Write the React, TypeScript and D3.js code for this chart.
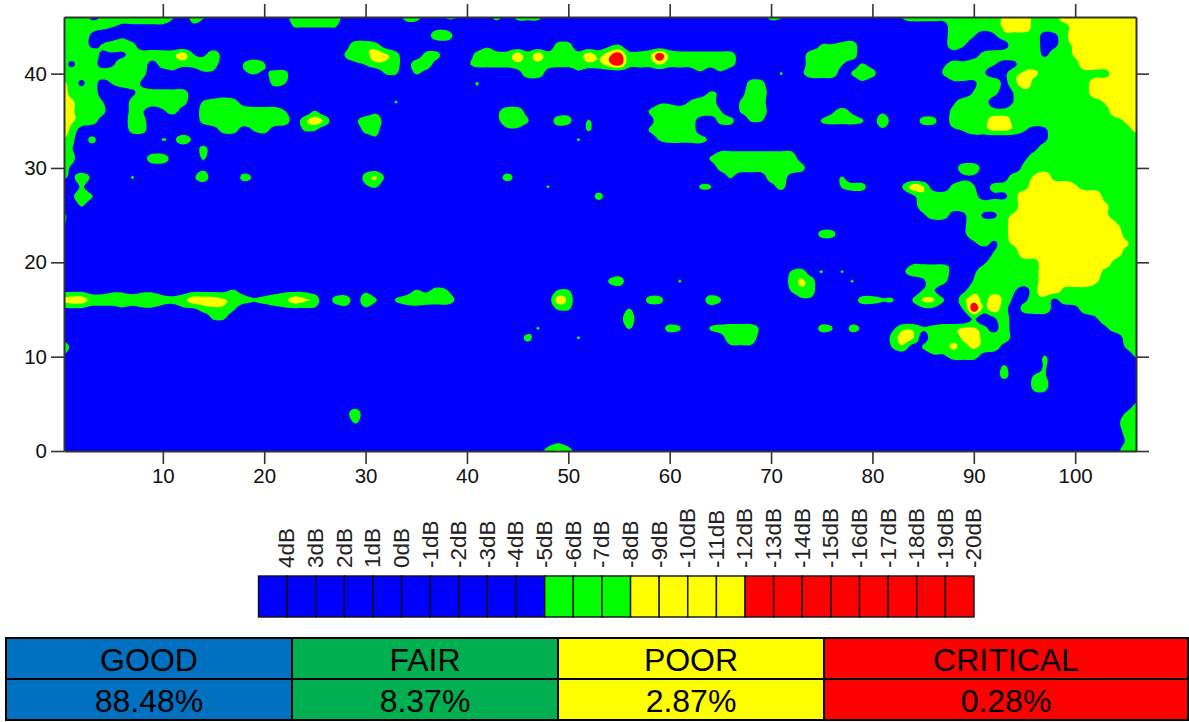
import React, { useEffect, useRef } from 'react';
import * as d3 from 'd3';

// level per grid node, rows run y=46 down to y=0, columns x=0..106 in groups of ten
const levelRows = [
  '5552355555 5314300000 0015555510 0000441033 0014044400 3000000000 0000000000 4300000000 0003444455 5556775557 7777777',
  '5554432222 2102100000 0003333300 0000110110 0000000000 0000000000 0000000000 0000000000 0001111155 5556775555 7777777',
  '5552002000 0000000000 0000000000 0000001551 0000000000 0000000000 0000000000 0000000000 0000000155 3025555125 7777777',
  '5552355400 0000000000 0000000015 5410000000 0020000004 4000230000 0000000000 0000033450 0000000153 0001555125 6777777',
  '5555222455 5573251000 0000000035 5764004400 0454474745 5475794459 5444444100 0001555550 0000000010 1455555255 6777777',
  '5255125551 5444541035 3000000012 3554155100 2444455544 4455794446 4445454100 0001555313 1000000244 5431255555 5777777',
  '5555555540 0200220023 2440000000 0033031000 0000015510 0200000000 0002020000 0302555135 4000000355 5312566555 5555777',
  '6525135520 0000000000 0430000000 0000000000 0300000000 0000000000 0000000044 0000000002 0000000022 2552575555 5577777',
  '7555100244 4441000000 0000000000 0000000000 0100000000 0000000000 0000320155 1000000000 0000000000 3541355555 5577777',
  '7655300455 5541345410 0000000000 0003000000 0000000000 0000000002 2135510355 0000000000 0000000025 5410355555 5556777',
  '7655400430 2411455555 5530030000 0200000000 0002551000 1000000035 5555530355 1000002420 0200000045 5544555555 5555777',
  '7655100540 0000455555 5551575002 5510000000 0002553005 4030000015 5551044033 0000034443 1510044055 5577555555 5555567',
  '7510000440 0000014413 4100330000 4400000000 0000220000 0030000035 5551000000 0000000000 0200000023 5566531255 5555556',
  '6404000000 3252000000 0000000000 0200000000 0000000000 0300000003 4444200000 0000000000 0000000000 0000000255 5555555',
  '5300000000 0000400000 0000000000 0000000000 0000000000 0000000000 0000022222 2220000000 0000000000 0000002555 5555555',
  '5400000015 5100300000 0000000000 0000000000 0000000000 0000000000 0000355555 5551000000 0000000000 0000025555 5555555',
  '5200000000 0000200000 0000000000 1100000000 0000000000 0000000000 0000045555 5554000000 0000000015 5100045555 5555555',
  '4252000300 0002500042 0000000000 4620000000 0001410000 0000000000 0000003000 5510000300 0000000002 2001556755 5555555',
  '0030000000 0000000000 0000000000 2300000000 0000000030 0000000000 0003300000 1400000344 0003761045 3144557777 6555555',
  '0253000000 0000000000 0000000000 0000000000 0000000000 0004000000 0000000000 0000000000 0000255555 4122577777 7775555',
  '0030000000 0000000000 0000000000 0000000000 0000000000 0000000000 0000000000 0000000000 0000155555 5555577777 7776555',
  '4100000000 0000000000 0000000000 0000000000 0000000000 0000000000 0000000000 0000000000 0000025512 5225677777 7776555',
  '4000000000 0000000000 0000000000 0000000000 0000000000 0000000000 0000000000 0000000000 0000000002 5555777777 7777655',
  '2000000000 0000000000 0000000000 0000000000 0000000000 0000000000 0000000000 0000044000 0000000002 5555777777 7777755',
  '0000000000 0000000000 0000000000 0000000000 0000000000 0000000000 0000000000 0000000000 0000000000 2425677777 7777765',
  '0000000000 0000000000 0000000000 0000000000 0000000000 0000000000 0000000000 0000000000 0000000000 0035577777 7777755',
  '0000000000 0000000000 0000000000 0000000000 0000000000 0000000000 0000000000 0000000000 0000222220 0255555777 7777555',
  '0000000000 0000000000 0000000000 0000000000 0000000000 0000000000 0000000000 0034130300 0002555510 2555555777 7775555',
  '0000000000 0000000000 0000000000 0000000000 0000000000 0000350000 0300000000 0046400030 0000025400 3555555777 7765555',
  '2221122122 1012222310 0122210000 2000132430 0000000003 3000000000 0000000000 0035400000 0000033002 5555315775 5555555',
  '6775555555 4457776543 4557650451 5313455552 0000000017 5000000044 0000530000 0002200014 4330366315 7575225525 5555555',
  '2221112122 1022455300 0122220010 2000110000 0000000003 3000003000 0000000000 0000000000 0000022003 9574145510 1555555',
  '0000000000 0000033000 0000000000 0000000000 0000000000 0000015000 0000000000 0000000000 0000000000 3025000000 0025555',
  '0000000000 0000000000 0000000000 0000000000 0000000300 0000003001 4300345552 0000043042 0025534556 6415000000 0002555',
  '2000000000 0000000000 0000000000 0000000000 0000004000 0300000000 0000015551 0000000000 0047615556 7555100000 0000045',
  '5200000000 0000000000 0000000000 0000000000 0000000000 0000000000 0000002220 0000000000 0035135565 6551000000 0000035',
  '3000000000 0000000000 0000000000 0000000000 0000000000 0000000000 0000000000 0000000000 0000002244 4100000300 0000003',
  '0000000000 0000000000 0000000000 0000000000 0000000000 0000000000 0000000000 0000000000 0000000000 0003000300 0000000',
  '0000000000 0000000000 0000000000 0000000000 0000000000 0000000000 0000000000 0000000000 0000000000 0004003300 0000000',
  '0000000000 0000000000 0000000000 0000000000 0000000000 0000000000 0000000000 0000000000 0000000000 0000004400 0000000',
  '0000000000 0000000000 0000000000 0000000000 0000000000 0000000000 0000000000 0000000000 0000000000 0000002200 0000000',
  '0000000000 0000000000 0000000000 0000000000 0000000000 0000000000 0000000000 0000000000 0000000000 0000000000 0000003',
  '0000000000 0000000000 0000000015 0000000000 0000000000 0000000000 0000000000 0000000000 0000000000 0000000000 0000035',
  '0000000000 0000000000 0000000003 0000000000 0000000000 0000000000 0000000000 0000000000 0000000000 0000000000 0000155',
  '0000000000 0000000000 0000000000 0000000000 0000000000 0000000000 0000000000 0000000000 0000000000 0000000000 0000045',
  '0000000000 0000000000 0000000000 0000000000 0000000012 1000000000 0000000000 0000000000 0000000000 0000000000 0000035',
  '0000000000 0000000000 0000000000 0000000000 0000000146 4100000000 0000000000 0000000000 0000000000 0000000000 0000155',
];

const bandThresholds = [2.7, 5.7, 7.7];
const bandColors = ['#00ff00', '#ffff00', '#ff0000'];
const xTicks = [10, 20, 30, 40, 50, 60, 70, 80, 90, 100];
const yTicks = [0, 10, 20, 30, 40];
const dbLabels = ['4dB', '3dB', '2dB', '1dB', '0dB', '-1dB', '-2dB', '-3dB', '-4dB', '-5dB', '-6dB', '-7dB', '-8dB', '-9dB', '-10dB', '-11dB', '-12dB', '-13dB', '-14dB', '-15dB', '-16dB', '-17dB', '-18dB', '-19dB', '-20dB'];
const dbColors = ['#0000ff', '#0000ff', '#0000ff', '#0000ff', '#0000ff', '#0000ff', '#0000ff', '#0000ff', '#0000ff', '#0000ff', '#00ff00', '#00ff00', '#00ff00', '#ffff00', '#ffff00', '#ffff00', '#ffff00', '#ff0000', '#ff0000', '#ff0000', '#ff0000', '#ff0000', '#ff0000', '#ff0000', '#ff0000'];
const ratingNames = ['GOOD', 'FAIR', 'POOR', 'CRITICAL'];
const ratingValues = ['88.48%', '8.37%', '2.87%', '0.28%'];
const ratingColors = ['#0070c0', '#00b050', '#ffff00', '#ff0000'];
const ratingEdges = [6, 292, 558, 824, 1188];

const FONT = '"Liberation Sans", Arial, sans-serif';
const FINE = 4; // sub-steps per grid cell, the contour lines come out round instead of faceted

// catmull-rom weights for the four nodes around t
const crWeights = (t: number) => [
  ((-t + 2) * t - 1) * t / 2,
  ((3 * t - 5) * t * t + 2) / 2,
  ((-3 * t + 4) * t + 1) * t / 2,
  (t - 1) * t * t / 2,
];

function refine(grid: number[][]) {
  const h = grid.length;
  const w = grid[0].length;
  const at = (r: number, c: number) =>
    grid[Math.max(0, Math.min(h - 1, r))][Math.max(0, Math.min(w - 1, c))];
  const out: number[] = [];
  for (let j = 0; j <= (h - 1) * FINE; j++) {
    const r = Math.floor(j / FINE);
    const wy = crWeights(j / FINE - r);
    for (let i = 0; i <= (w - 1) * FINE; i++) {
      const c = Math.floor(i / FINE);
      const wx = crWeights(i / FINE - c);
      let v = 0;
      for (let a = 0; a < 4; a++) {
        for (let b = 0; b < 4; b++) v += wy[a] * wx[b] * at(r + a - 1, c + b - 1);
      }
      const around = [at(r, c), at(r, c + 1), at(r + 1, c), at(r + 1, c + 1)];
      out.push(Math.max(d3.min(around), Math.min(d3.max(around), v)));
    }
  }
  return out;
}

export default function App() {
  const svgRef = useRef<SVGSVGElement>(null);

  useEffect(() => {
    const svg = d3.select(svgRef.current);
    svg.selectAll('*').remove();

    const x = d3.scaleLinear().domain([0.25, 106]).range([64, 1136]);
    const y = d3.scaleLinear().domain([0, 46]).range([451, 17]);

    // contour map
    const grid = levelRows.map(r => r.replace(/ /g, '').split('').map(Number));
    const nx = (grid[0].length - 1) * FINE + 1;
    const ny = (grid.length - 1) * FINE + 1;

    svg.append('defs').append('clipPath').attr('id', 'plot')
      .append('rect')
      .attr('x', x(0.25)).attr('y', y(46))
      .attr('width', x(106) - x(0.25)).attr('height', y(0) - y(46));

    const plot = svg.append('g').attr('clip-path', 'url(#plot)');
    plot.append('rect')
      .attr('x', x(0.25)).attr('y', y(46))
      .attr('width', x(106) - x(0.25)).attr('height', y(0) - y(46))
      .attr('fill', '#0000ff');

    // d3 puts grid node i at i + 0.5
    const toPlot = d3.geoTransform({
      point(px, py) {
        this.stream.point(x((px - 0.5) / FINE), y(46 - (py - 0.5) / FINE));
      },
    });
    const path = d3.geoPath(toPlot);
    const bands = d3.contours().size([nx, ny]).thresholds(bandThresholds)(refine(grid));
    plot.selectAll('path.band')
      .data(bands)
      .enter().append('path')
      .attr('class', 'band')
      .attr('d', d => path(d))
      .attr('fill', (d, i) => bandColors[i]);

    // axes
    const axes = [
      { gen: d3.axisBottom(x).tickValues(xTicks), at: `translate(0,${y(0)})` },
      { gen: d3.axisTop(x).tickValues(xTicks).tickFormat(() => ''), at: `translate(0,${y(46)})` },
      { gen: d3.axisLeft(y).tickValues(yTicks), at: `translate(${x(0.25)},0)` },
      { gen: d3.axisRight(y).tickValues(yTicks).tickFormat(() => ''), at: `translate(${x(106)},0)` },
    ];
    axes.forEach(a => {
      const g = svg.append('g')
        .attr('transform', a.at)
        .call(a.gen.tickSizeOuter(0).tickSizeInner(13).tickPadding(4));
      g.selectAll('.domain').attr('stroke', '#333').attr('stroke-width', 2);
      g.selectAll('.tick line').attr('stroke', '#333').attr('stroke-width', 1.6);
      g.selectAll('.tick text').attr('font-family', FONT).attr('font-size', 20.5).attr('fill', '#111');
    });

    // dB legend
    const legend = d3.scaleBand().domain(dbLabels).range([258.5, 974]);
    svg.selectAll('rect.cell')
      .data(dbLabels)
      .enter().append('rect')
      .attr('class', 'cell')
      .attr('x', d => legend(d))
      .attr('y', 576)
      .attr('width', legend.bandwidth())
      .attr('height', 41)
      .attr('fill', (d, i) => dbColors[i])
      .attr('stroke', '#111')
      .attr('stroke-width', 1.4);
    svg.selectAll('text.db')
      .data(dbLabels)
      .enter().append('text')
      .attr('class', 'db')
      .attr('transform', d => `translate(${legend(d) + legend.bandwidth() - 0.5},568) rotate(-90)`)
      .attr('dy', '0.35em')
      .attr('font-family', FONT)
      .attr('font-size', 22.5)
      .attr('fill', '#222')
      .text(d => d);

    // rating table
    const table = svg.append('g');
    const rowsY = [638, 679, 720];
    ratingNames.forEach((name, i) => {
      const x0 = ratingEdges[i];
      const x1 = ratingEdges[i + 1];
      [name, ratingValues[i]].forEach((label, r) => {
        table.append('rect')
          .attr('x', x0).attr('y', rowsY[r])
          .attr('width', x1 - x0).attr('height', rowsY[r + 1] - rowsY[r])
          .attr('fill', ratingColors[i])
          .attr('stroke', '#000')
          .attr('stroke-width', 2);
        table.append('text')
          .attr('x', (x0 + x1) / 2)
          .attr('y', rowsY[r] + 33)
          .attr('text-anchor', 'middle')
          .attr('font-family', FONT)
          .attr('font-size', 32)
          .attr('fill', '#000')
          .text(label);
      });
    });
  }, []);

  return (
    <svg
      ref={svgRef}
      width={1189}
      height={722}
      style={{ position: 'absolute', left: 0, top: 0, background: '#fff' }}
    />
  );
}
